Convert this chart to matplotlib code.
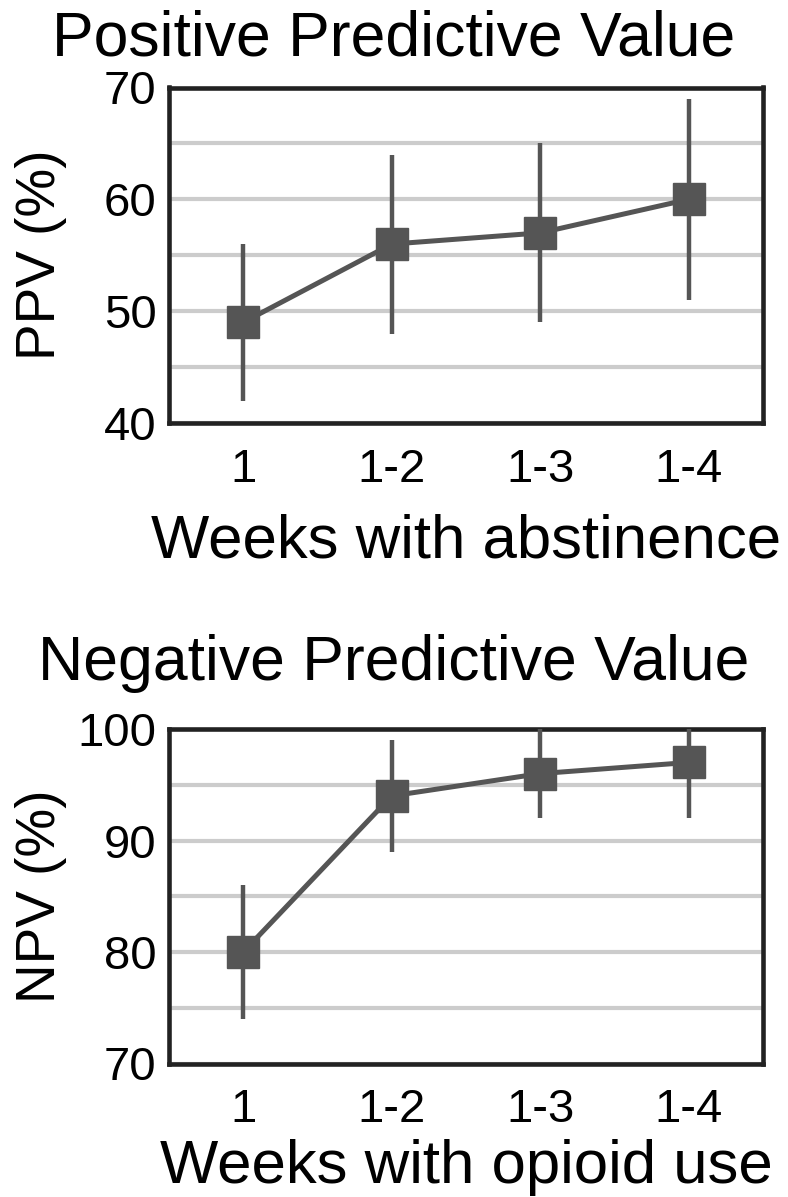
import numpy as np
import matplotlib
matplotlib.use("Agg")
import matplotlib.pyplot as plt

plt.rcParams['font.family'] = ['Liberation Sans', 'DejaVu Sans']

weeks = ["1", "1-2", "1-3", "1-4"]

# PPV (%) con intervalos
ppv = [49, 56, 57, 60]
ppv_low = [42, 48, 49, 51]
ppv_high = [56, 64, 65, 69]

# NPV (%) con intervalos
npv = [80, 94, 96, 97]
npv_low = [74, 89, 92, 92]
npv_high = [86, 99, 100, 102]

W, H = 788, 1197
DARK = "#555555"
FRAME = "#222222"
GRID = "#cccccc"


def panel(ax, vals, low, high, ylim, major, minor, ylabel, xlabel, xlab_y):
    x = np.arange(len(weeks))
    vals = np.array(vals)
    yerr = [vals - np.array(low), np.array(high) - vals]
    ax.errorbar(x, vals, yerr=yerr, fmt="none", ecolor=DARK, elinewidth=3.2,
                capsize=0, zorder=3)
    ax.plot(x, vals, color=DARK, lw=3.6, marker="s", ms=23, mec=DARK, mfc=DARK,
            zorder=4)
    ax.set_xlim(-0.5, len(weeks) - 0.5)
    ax.set_ylim(*ylim)
    ax.set_xticks(x)
    ax.set_xticklabels(weeks)
    ax.set_yticks(major)
    ax.set_yticks(minor, minor=True)
    ax.yaxis.grid(True, which="both", color=GRID, lw=3)
    ax.set_axisbelow(True)
    ax.tick_params(axis="both", which="both", length=0, labelsize=34)
    ax.tick_params(axis="x", pad=18)
    ax.tick_params(axis="y", pad=9)
    for s in ax.spines.values():
        s.set_linewidth(3.3)
        s.set_color(FRAME)
    ax.set_ylabel(ylabel, fontsize=39.5)
    ax.yaxis.set_label_coords(-0.172, 0.5)
    ax.set_xlabel(xlabel, fontsize=44.5, va="baseline")
    ax.xaxis.set_label_coords(0.5, xlab_y)


def main():
    fig = plt.figure(figsize=(W / 100, H / 100), dpi=100)

    ax1 = fig.add_axes([169 / W, (H - 423) / H, 594 / W, 335.5 / H])
    panel(ax1, ppv, ppv_low, ppv_high, (40, 70), [40, 50, 60, 70], [45, 55, 65],
          "PPV (%)", "Weeks with abstinence", (423 - 558) / 335.5)

    ax2 = fig.add_axes([169 / W, (H - 1063.5) / H, 594 / W, 334.5 / H])
    panel(ax2, npv, npv_low, npv_high, (70, 100), [70, 80, 90, 100], [75, 85, 95],
          "NPV (%)", "Weeks with opioid use", (1063.5 - 1183) / 334.5)

    fig.text(0.5, (H - 55) / H, "Positive Predictive Value", fontsize=45,
             ha="center", va="baseline")
    fig.text(0.5, (H - 680) / H, "Negative Predictive Value", fontsize=45,
             ha="center", va="baseline")

    fig.savefig("out.png", dpi=100)


if __name__ == "__main__":
    main()
